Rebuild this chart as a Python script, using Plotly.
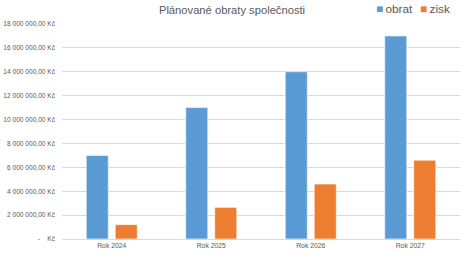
import plotly.graph_objects as go

categories = ["Rok 2024", "Rok 2025", "Rok 2026", "Rok 2027"]
obrat = [7000000, 11000000, 14000000, 17000000]
zisk = [1200000, 2650000, 4600000, 6600000]
series_names = ["obrat", "zisk"]
series_colors = ["#5B9BD5", "#ED7D31"]
tick_values = [0, 2000000, 4000000, 6000000, 8000000, 10000000, 12000000, 14000000, 16000000, 18000000]
tick_labels = ["-\u00a0\u00a0\u00a0\u00a0Kč", "2 000 000,00 Kč", "4 000 000,00 Kč", "6 000 000,00 Kč", "8 000 000,00 Kč",
               "10 000 000,00 Kč", "12 000 000,00 Kč", "14 000 000,00 Kč", "16 000 000,00 Kč", "18 000 000,00 Kč"]

FONT = "Liberation Sans, sans-serif"
W, H = 462, 255
L, R, T, B = 62, 2, 24, 16

fig = go.Figure()
for name, vals, col in zip(series_names, [obrat, zisk], series_colors):
    fig.add_trace(go.Bar(name=name, x=categories, y=vals,
                         marker=dict(color=col, line=dict(color="white", width=0.6))))

fig.update_layout(
    width=W, height=H,
    margin=dict(l=L, r=R, t=T, b=B, autoexpand=False),
    paper_bgcolor="white", plot_bgcolor="white",
    font=dict(family=FONT, color="#595959"),
    barmode="group", bargap=0.417, bargroupgap=0.24,
    title=dict(text="Plánované obraty společnosti", x=232 / W, xref="container", xanchor="center",
               y=1 - 10 / H, yref="container", yanchor="middle",
               font=dict(size=11.2, family=FONT, color="#595959")),
    showlegend=False,
)

# legend entries as text
legend_x = [374, 418]
pw, ph = W - L - R, H - T - B
for name, col, lx in zip(series_names, series_colors, legend_x):
    fig.add_annotation(text=f"<span style='color:{col}'>■</span>\u2009{name}",
                       x=(lx - L) / pw, y=1 + (T - 9) / ph, xref="paper", yref="paper",
                       xanchor="left", yanchor="middle", showarrow=False,
                       font=dict(size=11.8, family=FONT, color="#595959"))

fig.update_yaxes(range=[0, 18000000], tickvals=tick_values, ticktext=tick_labels,
                 showgrid=True, gridcolor="#D9D9D9", gridwidth=1, zeroline=False,
                 tickfont=dict(size=6.6, color="#595959"), ticks="", showline=False,
                 ticklabelstandoff=6, automargin=False)
fig.update_xaxes(showline=True, linecolor="#D9D9D9", linewidth=1, ticks="",
                 tickfont=dict(size=6.8, color="#595959"), automargin=False)

fig.write_html("out.html", config={"displayModeBar": False},
               post_script="document.body.style.margin='0';document.body.style.overflow='hidden';")
